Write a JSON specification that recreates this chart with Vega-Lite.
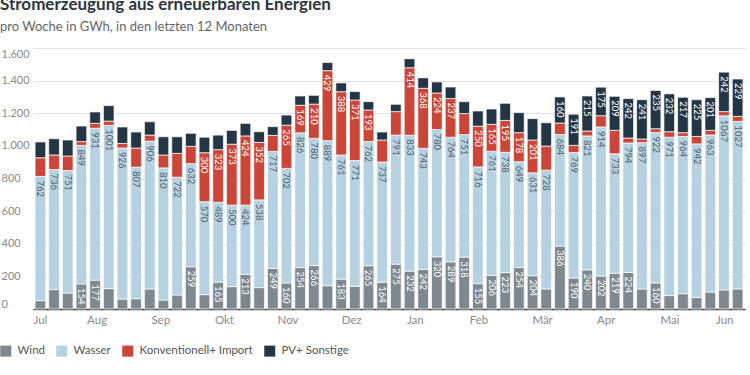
{
  "$schema": "https://vega.github.io/schema/vega-lite/v6.json",
  "width": 712,
  "height": 261,
  "autosize": {"type": "none"},
  "padding": {"left": 33, "top": 48, "right": 5, "bottom": 66},
  "background": "white",
  "config": {"font": "Lato", "view": {"stroke": null}},
  "title": {
    "text": "Stromerzeugung aus erneuerbaren Energien",
    "subtitle": "pro Woche in GWh, in den letzten 12 Monaten",
    "anchor": "start",
    "frame": "bounds",
    "font": "Lato",
    "fontSize": 17,
    "fontWeight": "bold",
    "color": "#2b3640",
    "subtitleFont": "Lato",
    "subtitleFontSize": 13,
    "subtitleColor": "#666666",
    "offset": 13,
    "subtitlePadding": 7
  },
  "datasets": {
    "weeks": [
      {"w": 1, "Wind": 51, "Wasser": 762, "Konventionell+ Import": 114, "PV+ Sonstige": 97},
      {"w": 2, "Wind": 119, "Wasser": 736, "Konventionell+ Import": 89, "PV+ Sonstige": 100},
      {"w": 3, "Wind": 98, "Wasser": 751, "Konventionell+ Import": 89, "PV+ Sonstige": 98},
      {"w": 4, "Wind": 154, "Wasser": 849, "Konventionell+ Import": 23, "PV+ Sonstige": 96},
      {"w": 5, "Wind": 177, "Wasser": 931, "Konventionell+ Import": 30, "PV+ Sonstige": 70},
      {"w": 6, "Wind": 125, "Wasser": 1001, "Konventionell+ Import": 26, "PV+ Sonstige": 95},
      {"w": 7, "Wind": 61, "Wasser": 926, "Konventionell+ Import": 28, "PV+ Sonstige": 101},
      {"w": 8, "Wind": 63, "Wasser": 807, "Konventionell+ Import": 117, "PV+ Sonstige": 98},
      {"w": 9, "Wind": 123, "Wasser": 906, "Konventionell+ Import": 37, "PV+ Sonstige": 82},
      {"w": 10, "Wind": 55, "Wasser": 810, "Konventionell+ Import": 79, "PV+ Sonstige": 112},
      {"w": 11, "Wind": 86, "Wasser": 722, "Konventionell+ Import": 146, "PV+ Sonstige": 102},
      {"w": 12, "Wind": 259, "Wasser": 632, "Konventionell+ Import": 106, "PV+ Sonstige": 80},
      {"w": 13, "Wind": 88, "Wasser": 570, "Konventionell+ Import": 300, "PV+ Sonstige": 95},
      {"w": 14, "Wind": 165, "Wasser": 489, "Konventionell+ Import": 323, "PV+ Sonstige": 89},
      {"w": 15, "Wind": 137, "Wasser": 500, "Konventionell+ Import": 373, "PV+ Sonstige": 85},
      {"w": 16, "Wind": 213, "Wasser": 424, "Konventionell+ Import": 424, "PV+ Sonstige": 77},
      {"w": 17, "Wind": 131, "Wasser": 538, "Konventionell+ Import": 352, "PV+ Sonstige": 66},
      {"w": 18, "Wind": 249, "Wasser": 717, "Konventionell+ Import": 98, "PV+ Sonstige": 54},
      {"w": 19, "Wind": 160, "Wasser": 702, "Konventionell+ Import": 265, "PV+ Sonstige": 62},
      {"w": 20, "Wind": 254, "Wasser": 826, "Konventionell+ Import": 169, "PV+ Sonstige": 57},
      {"w": 21, "Wind": 266, "Wasser": 780, "Konventionell+ Import": 210, "PV+ Sonstige": 54},
      {"w": 22, "Wind": 143, "Wasser": 889, "Konventionell+ Import": 429, "PV+ Sonstige": 50},
      {"w": 23, "Wind": 183, "Wasser": 761, "Konventionell+ Import": 388, "PV+ Sonstige": 54},
      {"w": 24, "Wind": 139, "Wasser": 771, "Konventionell+ Import": 371, "PV+ Sonstige": 52},
      {"w": 25, "Wind": 265, "Wasser": 762, "Konventionell+ Import": 193, "PV+ Sonstige": 51},
      {"w": 26, "Wind": 164, "Wasser": 737, "Konventionell+ Import": 135, "PV+ Sonstige": 49},
      {"w": 27, "Wind": 275, "Wasser": 791, "Konventionell+ Import": 144, "PV+ Sonstige": 45},
      {"w": 28, "Wind": 232, "Wasser": 833, "Konventionell+ Import": 414, "PV+ Sonstige": 55},
      {"w": 29, "Wind": 242, "Wasser": 743, "Konventionell+ Import": 368, "PV+ Sonstige": 64},
      {"w": 30, "Wind": 320, "Wasser": 780, "Konventionell+ Import": 224, "PV+ Sonstige": 68},
      {"w": 31, "Wind": 289, "Wasser": 764, "Konventionell+ Import": 237, "PV+ Sonstige": 71},
      {"w": 32, "Wind": 318, "Wasser": 751, "Konventionell+ Import": 129, "PV+ Sonstige": 73},
      {"w": 33, "Wind": 155, "Wasser": 716, "Konventionell+ Import": 250, "PV+ Sonstige": 93},
      {"w": 34, "Wind": 206, "Wasser": 761, "Konventionell+ Import": 165, "PV+ Sonstige": 94},
      {"w": 35, "Wind": 223, "Wasser": 738, "Konventionell+ Import": 195, "PV+ Sonstige": 105},
      {"w": 36, "Wind": 254, "Wasser": 649, "Konventionell+ Import": 178, "PV+ Sonstige": 123},
      {"w": 37, "Wind": 204, "Wasser": 631, "Konventionell+ Import": 201, "PV+ Sonstige": 131},
      {"w": 38, "Wind": 123, "Wasser": 728, "Konventionell+ Import": 148, "PV+ Sonstige": 143},
      {"w": 39, "Wind": 386, "Wasser": 684, "Konventionell+ Import": 70, "PV+ Sonstige": 160},
      {"w": 40, "Wind": 190, "Wasser": 769, "Konventionell+ Import": 44, "PV+ Sonstige": 191},
      {"w": 41, "Wind": 240, "Wasser": 821, "Konventionell+ Import": 30, "PV+ Sonstige": 215},
      {"w": 42, "Wind": 202, "Wasser": 914, "Konventionell+ Import": 69, "PV+ Sonstige": 175},
      {"w": 43, "Wind": 219, "Wasser": 733, "Konventionell+ Import": 143, "PV+ Sonstige": 209},
      {"w": 44, "Wind": 224, "Wasser": 794, "Konventionell+ Import": 30, "PV+ Sonstige": 242},
      {"w": 45, "Wind": 123, "Wasser": 897, "Konventionell+ Import": 22, "PV+ Sonstige": 241},
      {"w": 46, "Wind": 160, "Wasser": 922, "Konventionell+ Import": 23, "PV+ Sonstige": 235},
      {"w": 47, "Wind": 82, "Wasser": 971, "Konventionell+ Import": 34, "PV+ Sonstige": 232},
      {"w": 48, "Wind": 94, "Wasser": 964, "Konventionell+ Import": 23, "PV+ Sonstige": 217},
      {"w": 49, "Wind": 70, "Wasser": 942, "Konventionell+ Import": 46, "PV+ Sonstige": 225},
      {"w": 50, "Wind": 104, "Wasser": 963, "Konventionell+ Import": 28, "PV+ Sonstige": 201},
      {"w": 51, "Wind": 117, "Wasser": 1067, "Konventionell+ Import": 26, "PV+ Sonstige": 242},
      {"w": 52, "Wind": 123, "Wasser": 1027, "Konventionell+ Import": 31, "PV+ Sonstige": 229}
    ],
    "ord": [
      {"key": "Wind", "o": 1},
      {"key": "Wasser", "o": 2},
      {"key": "Konventionell+ Import", "o": 3},
      {"key": "PV+ Sonstige", "o": 4}
    ],
    "months": [
      {"m": 0, "name": "Jul"}, {"m": 1, "name": "Aug"}, {"m": 2, "name": "Sep"},
      {"m": 3, "name": "Okt"}, {"m": 4, "name": "Nov"}, {"m": 5, "name": "Dez"},
      {"m": 6, "name": "Jan"}, {"m": 7, "name": "Feb"}, {"m": 8, "name": "Mär"},
      {"m": 9, "name": "Apr"}, {"m": 10, "name": "Mai"}, {"m": 11, "name": "Jun"}
    ]
  },
  "layer": [
    {
      "data": {"name": "weeks"},
      "transform": [
        {"fold": ["Wind", "Wasser", "Konventionell+ Import", "PV+ Sonstige"], "as": ["key", "value"]},
        {"lookup": "key", "from": {"data": {"name": "ord"}, "key": "key", "fields": ["o"]}}
      ],
      "layer": [
        {
          "mark": {"type": "bar", "stroke": "white", "strokeWidth": 0.7},
          "encoding": {
            "x": {
              "field": "w", "type": "ordinal",
              "scale": {"paddingInner": 0.22, "paddingOuter": 0.15},
              "axis": {"orient": "bottom", "labels": false, "ticks": false, "title": null, "domain": true, "domainColor": "#3a4046", "domainWidth": 1.3, "grid": false}
            },
            "y": {
              "field": "value", "type": "quantitative", "stack": "zero",
              "scale": {"domain": [0, 1600], "nice": false},
              "axis": {
                "orient": "left",
                "values": [0, 200, 400, 600, 800, 1000, 1200, 1400, 1600],
                "tickCount": 9,
                "labelExpr": "replace(format(datum.value, ','), ',', '.')",
                "labelAlign": "left",
                "labelPadding": 32,
                "labelFlush": true,
                "labelOverlap": false,
                "ticks": false,
                "domain": false,
                "gridColor": "#e2e2e2",
                "labelColor": "#8a8a8a",
                "labelFontSize": 11,
                "title": null
              }
            },
            "color": {
              "field": "key", "type": "nominal",
              "scale": {
                "domain": ["Wind", "Wasser", "Konventionell+ Import", "PV+ Sonstige"],
                "range": ["#7d888f", "#b5d1e2", "#cb4538", "#243645"]
              },
              "legend": {
                "orient": "none",
                "legendX": -33,
                "legendY": 297,
                "direction": "horizontal",
                "title": null,
                "symbolType": "square",
                "symbolSize": 121,
                "symbolStrokeWidth": 0,
                "labelFontSize": 11.5,
                "labelColor": "#555555",
                "labelOffset": 6,
                "columnPadding": 11
              }
            },
            "order": {"field": "o", "type": "quantitative", "sort": "ascending"}
          }
        },
        {
          "mark": {"type": "text", "angle": 90, "align": "left", "baseline": "middle", "dx": 4, "fontSize": 9.5},
          "encoding": {
            "x": {"field": "w", "type": "ordinal", "scale": {"paddingInner": 0.22, "paddingOuter": 0.15}},
            "y": {
              "field": "value", "type": "quantitative", "stack": "zero",
              "axis": {
                "orient": "left",
                "values": [0, 200, 400, 600, 800, 1000, 1200, 1400, 1600],
                "tickCount": 9,
                "labelExpr": "replace(format(datum.value, ','), ',', '.')",
                "labelAlign": "left",
                "labelPadding": 32,
                "labelFlush": true,
                "labelOverlap": false,
                "ticks": false,
                "domain": false,
                "gridColor": "#e2e2e2",
                "labelColor": "#8a8a8a",
                "labelFontSize": 11,
                "title": null
              }
            },
            "detail": {"field": "key", "type": "nominal"},
            "order": {"field": "o", "type": "quantitative", "sort": "ascending"},
            "text": {"condition": {"test": "datum.value >= 150", "field": "value", "type": "quantitative", "format": "d"}, "value": ""},
            "color": {"condition": {"test": "datum.key === 'Wasser'", "value": "#56626c"}, "value": "white"}
          }
        }
      ]
    },
    {
      "data": {"name": "months"},
      "mark": {"type": "text", "text": ""},
      "encoding": {
        "x": {
          "field": "m", "type": "quantitative",
          "scale": {"domain": [0, 11], "range": [0, 700], "nice": false, "zero": false},
          "axis": {
            "orient": "bottom",
            "values": [0, 1, 2, 3, 4, 5, 6, 7, 8, 9, 10, 11],
            "labelExpr": "['Jul','Aug','Sep','Okt','Nov','Dez','Jan','Feb','Mär','Apr','Mai','Jun'][datum.value]",
            "labelFlush": true,
            "ticks": false,
            "domain": false,
            "grid": false,
            "title": null,
            "labelColor": "#8a8a8a",
            "labelFontSize": 11.5,
            "labelPadding": 5
          }
        }
      }
    }
  ],
  "resolve": {"scale": {"x": "independent"}, "axis": {"x": "independent"}}
}
